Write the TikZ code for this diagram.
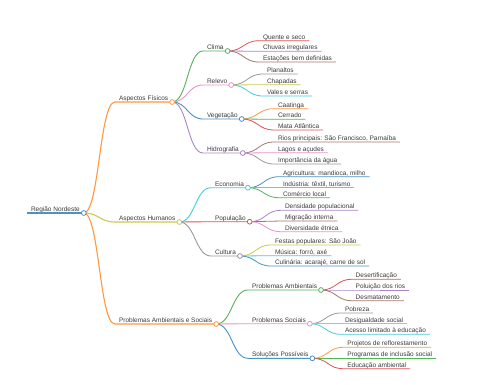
\documentclass[tikz,border=0pt]{standalone}
\usepackage{fontspec}
\setmainfont{Liberation Sans}
\usetikzlibrary{calc}
\definecolor{cA0}{HTML}{1F77B4}
\definecolor{cB0}{HTML}{FF7F0E}
\definecolor{cC0}{HTML}{2CA02C}
\definecolor{cD0}{HTML}{D62728}
\definecolor{cE0}{HTML}{9467BD}
\definecolor{cF0}{HTML}{8C564B}
\definecolor{cG0}{HTML}{E377C2}
\definecolor{cH0}{HTML}{7F7F7F}
\definecolor{cI0}{HTML}{BCBD22}
\definecolor{cJ0}{HTML}{17BECF}
\colorlet{cA}{cA0!80!white}
\colorlet{cB}{cB0!80!white}
\colorlet{cC}{cC0!80!white}
\colorlet{cD}{cD0!80!white}
\colorlet{cE}{cE0!80!white}
\colorlet{cF}{cF0!80!white}
\colorlet{cG}{cG0!80!white}
\colorlet{cH}{cH0!80!white}
\colorlet{cI}{cI0!80!white}
\colorlet{cJ}{cJ0!80!white}
\definecolor{txt}{HTML}{3A3A3A}
\tikzset{
  mm/.style={font=\fontsize{6.5}{7}\selectfont, text=txt, inner xsep=4pt, inner ysep=1.5pt,
             text depth=0pt, anchor=south west, outer sep=0pt},
  circ/.style={circle, fill=white, inner sep=0pt, minimum size=4.8pt, line width=0.8pt},
  mlink/.style={to path={let \p1=(\tikztostart), \p2=(\tikztotarget) in
     .. controls ({0.5*\x1+0.5*\x2},\y1) and ({0.5*\x1+0.5*\x2},\y2) .. (\tikztotarget)}},
}
\newcommand\mmk[7]{%
  \node[mm] (#1) at (#3,#4) {#7};
  \draw[#5, line width=#6] (#2.south east) to[mlink] (#1.south west) -- (#1.south east);
}
\begin{document}
\begin{tikzpicture}[x=1pt,y=-1pt]
\useasboundingbox (0,0) rectangle (480,384);
\node[mm] (root) at (27,213) {Região Nordeste};
\draw[cA, line width=1.4pt] (root.south west) -- (root.south east);
% Aspectos Fisicos
\mmk{af}{root}{115}{102}{cB}{1.1pt}{Aspectos Físicos}
\mmk{clima}{af}{203}{51}{cC}{0.9pt}{Clima}
\mmk{q1}{clima}{259}{40.7}{cD}{0.8pt}{Quente e seco}
\mmk{q2}{clima}{259}{51.3}{cE}{0.8pt}{Chuvas irregulares}
\mmk{q3}{clima}{259}{62}{cF}{0.8pt}{Estações bem definidas}
\mmk{relevo}{af}{203}{85}{cG}{0.9pt}{Relevo}
\mmk{r1}{relevo}{263}{74}{cH}{0.8pt}{Planaltos}
\mmk{r2}{relevo}{263}{84.7}{cI}{0.8pt}{Chapadas}
\mmk{r3}{relevo}{263}{96}{cJ}{0.8pt}{Vales e serras}
\mmk{veg}{af}{203}{119}{cA}{0.9pt}{Vegetação}
\mmk{v1}{veg}{274}{108.7}{cB}{0.8pt}{Caatinga}
\mmk{v2}{veg}{274}{119.3}{cC}{0.8pt}{Cerrado}
\mmk{v3}{veg}{274}{130}{cD}{0.8pt}{Mata Atlântica}
\mmk{hid}{af}{203}{153}{cE}{0.9pt}{Hidrografia}
\mmk{h1}{hid}{274}{142}{cF}{0.8pt}{Rios principais: São Francisco, Parnaíba}
\mmk{h2}{hid}{274}{152.7}{cG}{0.8pt}{Lagos e açudes}
\mmk{h3}{hid}{274}{164}{cH}{0.8pt}{Importância da água}
% Aspectos Humanos
\mmk{ah}{root}{115}{222}{cI}{1.1pt}{Aspectos Humanos}
\mmk{eco}{ah}{211}{187.7}{cJ}{0.9pt}{Economia}
\mmk{e1}{eco}{279}{176.7}{cA}{0.8pt}{Agricultura: mandioca, milho}
\mmk{e2}{eco}{279}{187.7}{cB}{0.8pt}{Indústria: têxtil, turismo}
\mmk{e3}{eco}{279}{197.7}{cC}{0.8pt}{Comércio local}
\mmk{pop}{ah}{211}{221.7}{cD}{0.9pt}{População}
\mmk{p1}{pop}{281}{210.3}{cE}{0.8pt}{Densidade populacional}
\mmk{p2}{pop}{281}{221}{cF}{0.8pt}{Migração interna}
\mmk{p3}{pop}{281}{231.7}{cG}{0.8pt}{Diversidade étnica}
\mmk{cul}{ah}{211}{256}{cH}{0.9pt}{Cultura}
\mmk{k1}{cul}{271}{245}{cI}{0.8pt}{Festas populares: São João}
\mmk{k2}{cul}{271}{255.7}{cJ}{0.8pt}{Música: forró, axé}
\mmk{k3}{cul}{271}{266}{cA}{0.8pt}{Culinária: acarajé, carne de sol}
% Problemas
\mmk{pas}{root}{115}{324}{cB}{1.1pt}{Problemas Ambientais e Sociais}
\mmk{pa}{pas}{248}{290}{cC}{0.9pt}{Problemas Ambientais}
\mmk{a1}{pa}{351.7}{279.3}{cD}{0.8pt}{Desertificação}
\mmk{a2}{pa}{351.7}{290}{cE}{0.8pt}{Poluição dos rios}
\mmk{a3}{pa}{351.7}{300.7}{cF}{0.8pt}{Desmatamento}
\mmk{ps}{pas}{248}{323.7}{cG}{0.9pt}{Problemas Sociais}
\mmk{s1}{ps}{341}{313}{cH}{0.8pt}{Pobreza}
\mmk{s2}{ps}{341}{323.7}{cI}{0.8pt}{Desigualdade social}
\mmk{s3}{ps}{341}{334.3}{cJ}{0.8pt}{Acesso limitado à educação}
\mmk{sol}{pas}{248}{358.3}{cA}{0.9pt}{Soluções Possíveis}
\mmk{o1}{sol}{343.3}{347.3}{cB}{0.8pt}{Projetos de reflorestamento}
\mmk{o2}{sol}{343.3}{358.3}{cC}{0.8pt}{Programas de inclusão social}
\mmk{o3}{sol}{343.3}{368.7}{cD}{0.8pt}{Educação ambiental}
% circles
\foreach \n/\c in {root/cA, af/cB, clima/cC, relevo/cG, veg/cA, hid/cE, ah/cI, eco/cJ,
                   pop/cD, cul/cH, pas/cB, pa/cC, ps/cG, sol/cA}
  \node[circ, draw=\c] (c-\n) at (\n.south east) {};
\end{tikzpicture}
\end{document}
